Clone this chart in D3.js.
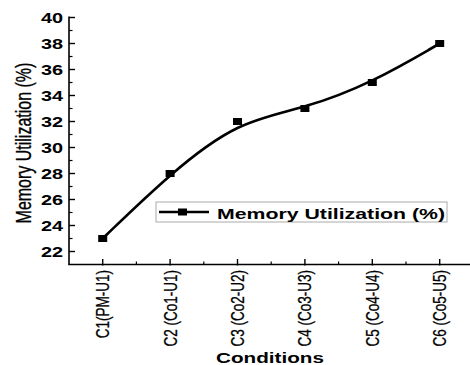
<!DOCTYPE html>
<html>
<head>
<meta charset="utf-8">
<script src="https://cdn.jsdelivr.net/npm/d3@7"></script>
<style>
  body { margin: 0; background: #fff; }
  text { font-family: "Liberation Sans", Arial, sans-serif; fill: #000; }
</style>
</head>
<body>
<div id="chart"></div>
<script>
var categories = ["C1(PM-U1)", "C2 (Co1-U1)", "C3 (Co2-U2)", "C4 (Co3-U3)", "C5 (Co4-U4)", "C6 (Co5-U5)"];
var memoryValues = [23, 28, 32, 33, 35, 38];
var yTickValues = [22, 24, 26, 28, 30, 32, 34, 36, 38, 40];
var yMinorValues = [23, 25, 27, 29, 31, 33, 35, 37, 39];
var seriesName = "Memory Utilization (%)";
var yTitle = "Memory Utilization (%)";
var xTitle = "Conditions";

var width = 470,
  height = 365;

var svg = d3.select( "#chart" )
  .append( "svg" )
  .attr( "width", width )
  .attr( "height", height );

var x = d3.scaleLinear()
  .domain( [0.5, 6.5] )
  .range( [69, 69 + 6 * 67.4] );

var y = d3.scaleLinear()
  .domain( [21, 40] )
  .range( [264.5, 17.5] );

// stretched text helper (the reference looks horizontally stretched)
function stretchText(g, tx, ty, sx, rot) {
  return g.append( "text" )
    .attr( "transform", "translate(" + tx + "," + ty + ") scale(" + sx + ",1)" + (rot ? " rotate(" + rot + ")" : "") );
}

// y axis
var yAxis = svg.append( "g" ).attr( "stroke", "#000" );
yAxis.append( "line" )
  .attr( "x1", x(0.5) ).attr( "x2", x(0.5) )
  .attr( "y1", y(40) - 1 ).attr( "y2", y(21) )
  .attr( "stroke-width", 1.6 );
yAxis.selectAll( "line.major" )
  .data( yTickValues )
  .enter()
  .append( "line" )
  .attr( "class", "major" )
  .attr( "x1", x(0.5) ).attr( "x2", x(0.5) + 6 )
  .attr( "y1", function(d){ return y(d); } )
  .attr( "y2", function(d){ return y(d); } )
  .attr( "stroke-width", 1.4 );
yAxis.selectAll( "line.minor" )
  .data( yMinorValues )
  .enter()
  .append( "line" )
  .attr( "class", "minor" )
  .attr( "x1", x(0.5) ).attr( "x2", x(0.5) + 3.5 )
  .attr( "y1", function(d){ return y(d); } )
  .attr( "y2", function(d){ return y(d); } )
  .attr( "stroke-width", 1.2 );

yTickValues.forEach(function(d){
  stretchText( svg, 63, y(d), 1.42 )
    .attr( "text-anchor", "end" )
    .attr( "dy", "0.36em" )
    .style( "font-size", "14px" )
    .style( "font-weight", "bold" )
    .text( d );
});

stretchText( svg, 31, 143, 1.4, -90 )
  .attr( "text-anchor", "middle" )
  .style( "font-size", "16px" )
  .style( "stroke", "#000" )
  .style( "stroke-width", 0.25 )
  .text( yTitle );

// x axis
var xAxis = svg.append( "g" ).attr( "stroke", "#000" );
xAxis.append( "line" )
  .attr( "x1", x(0.5) - 0.8 ).attr( "x2", width )
  .attr( "y1", y(21) ).attr( "y2", y(21) )
  .attr( "stroke-width", 1.6 );
xAxis.selectAll( "line.major" )
  .data( categories )
  .enter()
  .append( "line" )
  .attr( "class", "major" )
  .attr( "x1", function(d, i){ return x(i + 1); } )
  .attr( "x2", function(d, i){ return x(i + 1); } )
  .attr( "y1", y(21) + 1 ).attr( "y2", y(21) - 5.5 )
  .attr( "stroke-width", 1.4 );
xAxis.selectAll( "line.minor" )
  .data( categories.slice(0, 5) )
  .enter()
  .append( "line" )
  .attr( "class", "minor" )
  .attr( "x1", function(d, i){ return x(i + 1.5); } )
  .attr( "x2", function(d, i){ return x(i + 1.5); } )
  .attr( "y1", y(21) ).attr( "y2", y(21) - 3 )
  .attr( "stroke-width", 1.2 );

categories.forEach(function(d, i){
  stretchText( svg, x(i + 1), 270, 1.35, -90 )
    .attr( "text-anchor", "end" )
    .attr( "dy", "0.36em" )
    .style( "font-size", "13.5px" )
    .style( "stroke", "#000" )
    .style( "stroke-width", 0.2 )
    .text( d );
});

stretchText( svg, 270, 363, 1.38 )
  .attr( "text-anchor", "middle" )
  .style( "font-size", "15px" )
  .style( "font-weight", "bold" )
  .text( xTitle );

// series
var line = d3.line()
  .x(function(d, i){ return x(i + 1); })
  .y(function(d){ return y(d); })
  .curve( d3.curveBasis );

svg.append( "path" )
  .datum( memoryValues )
  .attr( "fill", "none" )
  .attr( "stroke", "#000" )
  .attr( "stroke-width", 2.6 )
  .attr( "d", line );

svg.selectAll( "rect.marker" )
  .data( memoryValues )
  .enter()
  .append( "rect" )
  .attr( "class", "marker" )
  .attr( "x", function(d, i){ return x(i + 1) - 4.5; } )
  .attr( "y", function(d){ return y(d) - 3.5; } )
  .attr( "width", 9 )
  .attr( "height", 7 )
  .attr( "fill", "#000" );

// legend
var legend = svg.append( "g" );
legend.append( "rect" )
  .attr( "x", 156 ).attr( "y", 202 )
  .attr( "width", 291 ).attr( "height", 20 )
  .attr( "fill", "#fff" )
  .attr( "stroke", "#aaa" )
  .attr( "stroke-width", 1 );
legend.append( "line" )
  .attr( "x1", 159 ).attr( "x2", 209 )
  .attr( "y1", 212 ).attr( "y2", 212 )
  .attr( "stroke", "#000" )
  .attr( "stroke-width", 2.6 );
legend.append( "rect" )
  .attr( "x", 178 ).attr( "y", 208.5 )
  .attr( "width", 9 ).attr( "height", 7 )
  .attr( "fill", "#000" );
stretchText( legend, 217, 218.5, 1.52 )
  .style( "font-size", "14px" )
  .style( "font-weight", "bold" )
  .text( seriesName );
</script>
</body>
</html>
